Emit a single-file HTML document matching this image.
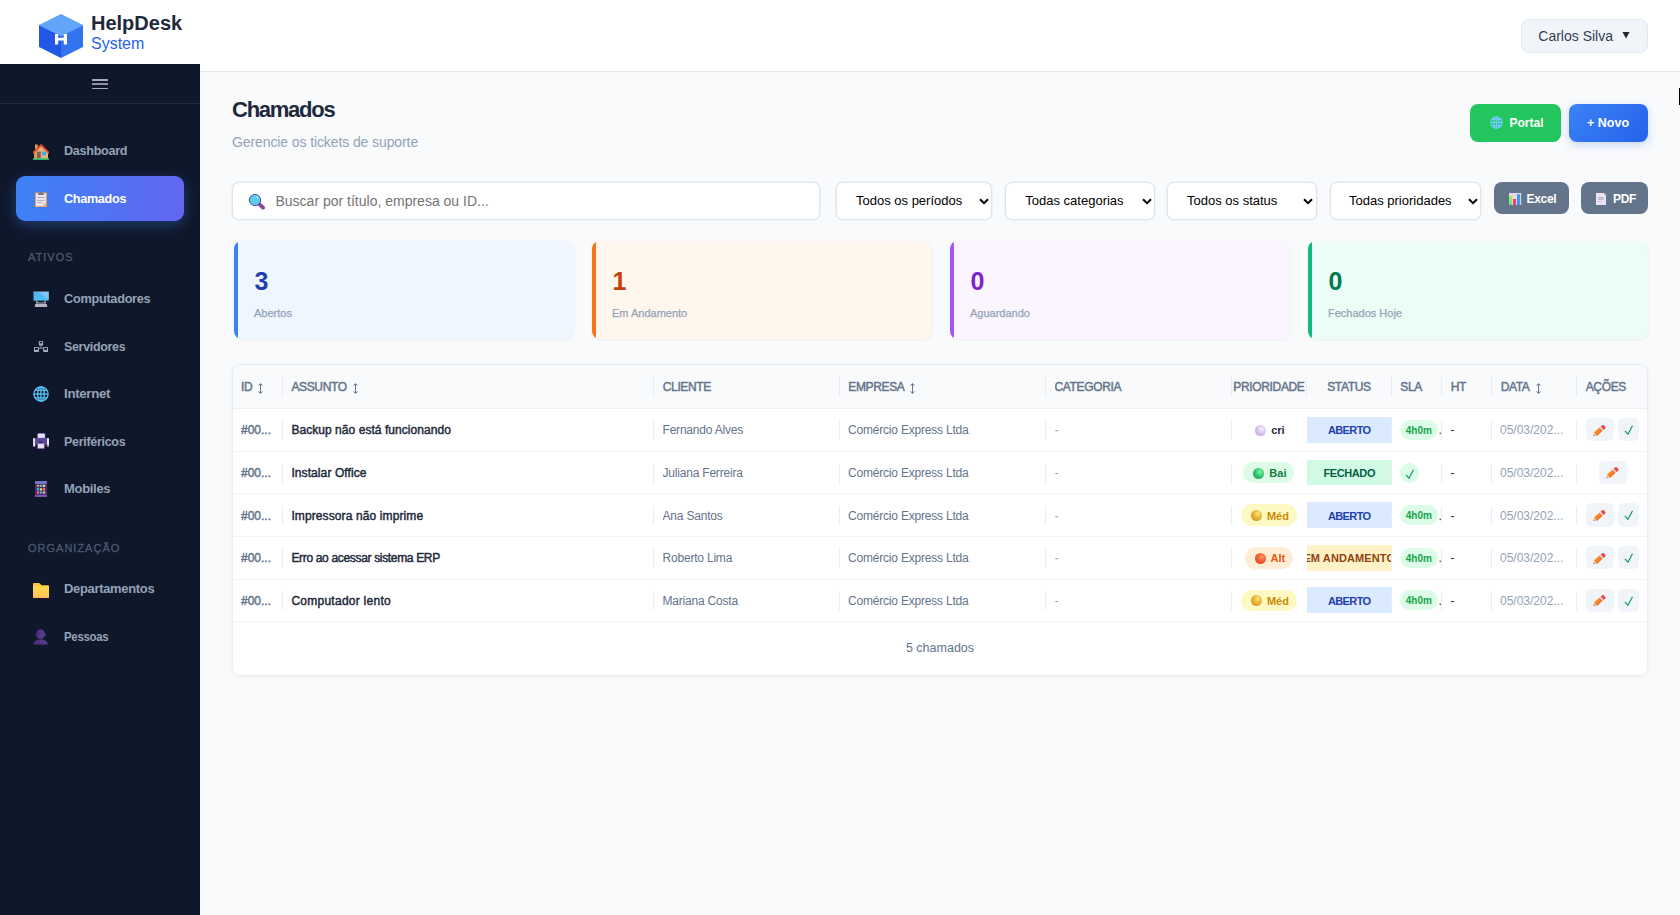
<!DOCTYPE html>
<html lang="pt-BR">
<head>
<meta charset="utf-8">
<title>HelpDesk System - Chamados</title>
<style>
*{box-sizing:border-box;margin:0;padding:0}
html,body{width:1680px;height:915px;overflow:hidden}
body{position:relative;background:#f8fafc;font-family:"Liberation Sans",sans-serif;color:#1e293b}
.abs{position:absolute}
svg{display:block}
#hdr{position:absolute;left:0;top:0;width:1680px;height:72px;background:#fff;border-bottom:1px solid #e2e8f0}
.brand1{position:absolute;left:91px;top:11px;font-weight:bold;font-size:20px;line-height:24px;color:#1e293b;white-space:nowrap}
.brand2{position:absolute;left:91px;top:34px;font-size:16px;line-height:20px;color:#2563eb;white-space:nowrap}
#user{position:absolute;left:1521px;top:19px;width:127px;height:34px;background:#f1f5f9;border:1px solid #e2e8f0;border-radius:8px}
#user span{position:absolute;left:16.3px;top:8px;font-size:14px;line-height:16px;color:#334155;white-space:nowrap}
#side{position:absolute;left:0;top:64px;width:200px;height:851px;background:#0f172a}
.hamb{position:absolute;left:92px;width:16px;background:#a4a9b6}
.sep{position:absolute;left:0;top:39px;width:200px;height:1px;background:#1e293b}
.nav{position:absolute;left:64px;font-weight:bold;font-size:13px;line-height:16px;letter-spacing:-0.3px;color:#94a3b8;white-space:nowrap;transform-origin:0 50%}
.sect{position:absolute;left:28px;font-weight:normal;font-size:11px;line-height:13px;letter-spacing:1px;color:#4b5a70;white-space:nowrap;-webkit-text-stroke:0.3px #4b5a70}
.ico{position:absolute}
#active{position:absolute;left:16px;top:112px;width:168px;height:45px;border-radius:9px;background:linear-gradient(100deg,#3b82f6 0%,#6366f1 100%);box-shadow:0 4px 14px rgba(59,130,246,0.35)}
.title{position:absolute;left:232px;top:96.5px;font-weight:bold;font-size:22px;line-height:26px;letter-spacing:-1.25px;color:#1e293b;white-space:nowrap}
.subtitle{position:absolute;left:232px;top:134px;font-size:14px;line-height:16px;color:#94a3b8;white-space:nowrap;letter-spacing:-0.1px}
.btn{position:absolute;border-radius:8px;color:#fff;font-weight:bold;white-space:nowrap}
.btn span{position:absolute;line-height:14px}
.inp{position:absolute;top:182px;height:38px;background:#fff;border:1px solid #dfe5ed;border-radius:7px;box-shadow:0 0 0 0.6px rgba(226,232,240,0.8)}
.inp .t{position:absolute;top:10px;font-size:13px;line-height:16px;color:#000;white-space:nowrap}
.inp svg.chev{position:absolute;top:15px}
.card{position:absolute;top:241px;width:340px;height:98px;border-radius:8px;overflow:hidden;box-shadow:0 1px 3px rgba(15,23,42,0.06)}
.card .bar{position:absolute;left:0;top:0;width:4px;height:100%}
.card .n{position:absolute;left:21px;top:26px;font-weight:bold;font-size:25px;line-height:28px}
.card .l{position:absolute;left:20.5px;top:65px;font-size:11px;line-height:14px;color:#94a3b8;white-space:nowrap;-webkit-text-stroke:0.25px #94a3b8}
#tbl{position:absolute;left:232px;top:364px;width:1416px;height:312px;background:#fff;border-radius:8px;box-shadow:0 1px 4px rgba(15,23,42,0.06);overflow:hidden}
#tbl::after{content:'';position:absolute;left:0;top:0;right:0;bottom:0;border:1px solid #e9edf2;border-radius:8px;pointer-events:none}
.th{position:absolute;left:0;top:0;width:1416px;height:44.5px;background:#f8fafc;border-bottom:1px solid #ecf0f5}
.tr{position:absolute;left:0;width:1416px;border-bottom:1px solid #f1f5f9}
.c{position:absolute;top:0;height:100%;display:flex;align-items:center;white-space:nowrap;overflow:hidden}
.vs{position:absolute;width:1px;height:19px;background:#e9edf2}
.hd{font-weight:normal;font-size:12px;color:#64748b;letter-spacing:-0.35px;padding-top:2px;-webkit-text-stroke:0.45px #64748b}
.sort{display:block;margin-left:6px;position:relative;top:2px}
.id{font-weight:normal;font-size:12px;color:#64748b;padding-top:1px;-webkit-text-stroke:0.45px #64748b}
.subj{font-weight:normal;font-size:12px;color:#1e293b;padding-top:1px;-webkit-text-stroke:0.45px #1e293b}
.cl{font-size:12px;color:#64748b;letter-spacing:-0.2px;padding-top:1px}
.mut{font-size:12px;color:#94a3b8;padding-top:1px}
.dk{font-size:12px;color:#1e293b;padding-top:1px}
.pb{display:flex;align-items:center;height:21.5px;border-radius:11px;padding:1px 8px 0 10px;font-weight:bold;font-size:11px}
.sph{display:inline-block;border-radius:50%;margin-right:5px;flex:none;position:relative;top:0px}
.st{width:100%;height:25.6px;display:flex;align-items:center;justify-content:center;font-weight:bold;font-size:11px;overflow:hidden;padding-top:1px}
.sla{display:flex;align-items:center;justify-content:center;height:20px;border-radius:10px;background:#dcfce7;color:#16a34a;font-weight:bold;font-size:10px;padding-top:1px}
.ab{display:flex;align-items:center;justify-content:center;height:23.4px;border-radius:5px;background:#f1f5f9;flex:none}
</style>
</head>
<body>

<div id="hdr">
  <svg class="abs" style="left:39px;top:14px" width="44" height="44" viewBox="0 0 44 44">
    <polygon points="22,0 44,11 22,22 0,11" fill="#60a5fa"/>
    <polygon points="0,11 22,22 22,44 0,33" fill="#2357e8"/>
    <polygon points="44,11 22,22 22,44 44,33" fill="#3273f0"/>
    <path d="M16 20h3.2v3.8h5.6V20H28v10.5h-3.2v-4h-5.6v4H16z" fill="#fff"/>
  </svg>
  <div class="brand1">HelpDesk</div>
  <div class="brand2">System</div>
  <div id="user"><span>Carlos Silva</span>
    <svg class="abs" style="left:100px;top:11px" width="8" height="8" viewBox="0 0 8 8"><polygon points="0.5,1 7.5,1 4,7.5" fill="#1e293b"/></svg>
  </div>
</div>

<div id="side">
<div class="hamb" style="top:15px;height:1.5px"></div><div class="hamb" style="top:19.2px;height:1.8px;background:#8d919d"></div><div class="hamb" style="top:23.8px;height:1.5px"></div>
<div class="sep"></div>
<div id="active"></div>
<div class="ico" style="left:33px;top:79.5px"><svg width="16" height="16" viewBox="0 0 16 16"><rect x="2" y="0.5" width="2.8" height="5" fill="#d9995a"/><polygon points="8,2.2 15,8.6 15,14.4 1.1,14.4 1.1,8.6" fill="#e9b27c"/><rect x="1.1" y="8" width="1.6" height="6.4" fill="#d48f55"/><path d="M0.6 8.6 L8 1.2 L15.4 8.6" fill="none" stroke="#e8502e" stroke-width="1.9" stroke-linejoin="round" stroke-linecap="round"/><rect x="3.8" y="7.6" width="4" height="6.8" fill="#8b5a4c"/><rect x="9" y="7.6" width="4" height="3.8" fill="#3aa9ef"/><rect x="0" y="14.3" width="16" height="1.4" rx="0.5" fill="#4ade80"/></svg></div>
<div class="nav" style="top:79px;color:#94a3b8;transform:scaleX(0.97)">Dashboard</div>
<div class="ico" style="left:35px;top:127.80000000000001px"><svg width="12" height="15" viewBox="0 0 12 15"><rect x="0" y="0.4" width="11.9" height="14.6" rx="0.6" fill="#f0a24e"/><path d="M1.1 1.4 H10.9 V11.6 L8.4 14 H1.1 Z" fill="#ebe7f4"/><path d="M8.4 14 L8.4 11.6 L10.9 11.6 Z" fill="#cfc8dc"/><rect x="3.2" y="1" width="5.6" height="2" rx="0.6" fill="#77727f"/><rect x="5.3" y="0" width="1.4" height="1.4" fill="#77727f"/><rect x="2.2" y="5" width="7.5" height="0.9" fill="#a9a4b2"/><rect x="2.2" y="7.9" width="7.5" height="0.9" fill="#a9a4b2"/><rect x="2.2" y="10" width="4.8" height="0.9" fill="#a9a4b2"/></svg></div>
<div class="nav" style="top:127px;color:#ffffff;transform:scaleX(0.97)">Chamados</div>
<div class="ico" style="left:33px;top:227px"><svg width="16" height="16" viewBox="0 0 16 16"><defs><linearGradient id="scr" x1="0" y1="0" x2="1" y2="1"><stop offset="0" stop-color="#45b4f0"/><stop offset="1" stop-color="#52c4f4"/></linearGradient></defs><rect x="0.5" y="0.4" width="15.2" height="9.2" fill="url(#scr)"/><polygon points="5,1 15.7,1 15.7,8.4" fill="#8cc8f2" opacity="0.8"/><rect x="0.5" y="0.1" width="15.2" height="0.8" fill="#6a5a70"/><rect x="3.2" y="9.6" width="1.3" height="2.8" fill="#b5b0bd"/><rect x="11.5" y="9.6" width="1.3" height="2.8" fill="#b5b0bd"/><rect x="3.2" y="11.4" width="9.6" height="1.2" fill="#a8a3b0"/><path d="M2.2 13.1 H13.8 L14.3 15.9 H1.7 Z" fill="#b9b3c1"/></svg></div>
<div class="nav" style="top:226.5px;color:#94a3b8;transform:scaleX(0.98)">Computadores</div>
<div class="ico" style="left:33px;top:275px"><svg width="16" height="16" viewBox="0 0 16 16"><g fill="#a3aec3"><rect x="5.8" y="1.9" width="4.3" height="4.6" rx="0.5"/><rect x="1" y="7.9" width="4.9" height="5" rx="0.5"/><rect x="10.2" y="7.9" width="4.8" height="5" rx="0.5"/><rect x="7.5" y="6.5" width="1" height="2"/><rect x="5.9" y="8.7" width="4.3" height="0.9"/></g><g fill="#0b1224"><rect x="6.8" y="2.8" width="2.3" height="1.6"/><rect x="2" y="8.8" width="2.9" height="2"/><rect x="11.2" y="8.8" width="2.8" height="2"/></g></svg></div>
<div class="nav" style="top:275px;color:#94a3b8;transform:scaleX(0.955)">Servidores</div>
<div class="ico" style="left:33px;top:322px"><svg width="16" height="16" viewBox="0 0 16 16"><g fill="none" stroke="#5ec4f8" stroke-width="1.3"><circle cx="8" cy="8" r="7.1"/><ellipse cx="8" cy="8" rx="3.3" ry="7.1"/><line x1="8" y1="0.9" x2="8" y2="15.1"/><line x1="0.9" y1="8" x2="15.1" y2="8"/><path d="M2 4.2 H14"/><path d="M2 11.8 H14"/></g></svg></div>
<div class="nav" style="top:321.5px;color:#94a3b8;transform:scaleX(1.02)">Internet</div>
<div class="ico" style="left:33px;top:369px"><svg width="16" height="16" viewBox="0 0 16 16"><rect x="4.2" y="0.1" width="8.2" height="5.3" rx="1.5" fill="#7d62b8"/><rect x="4.9" y="0.8" width="6.8" height="4.6" fill="#e6e0f0"/><rect x="0.1" y="5.2" width="2.2" height="8.3" fill="#ede8f5"/><rect x="13.8" y="5.2" width="2.2" height="8.3" fill="#ede8f5"/><rect x="14.2" y="11.7" width="1.3" height="1.3" fill="#ef3b5c"/><rect x="2.3" y="4.9" width="11.5" height="6.7" fill="#5b4a9c"/><rect x="6.1" y="8.3" width="3.9" height="1.5" fill="#3a2e52"/><rect x="4.2" y="10.7" width="7.5" height="5.2" fill="#7d5aa8"/><rect x="4.9" y="10.7" width="6.2" height="4.4" fill="#e2dcee"/></svg></div>
<div class="nav" style="top:370px;color:#94a3b8;transform:scaleX(0.96)">Periféricos</div>
<div class="ico" style="left:35px;top:417px"><svg width="13" height="16" viewBox="0 0 13 16"><rect x="0" y="0" width="12.1" height="16" rx="1" fill="#4a2c78"/><rect x="0" y="0" width="12.1" height="2.9" rx="0.8" fill="#7274c6"/><rect x="0" y="13.8" width="12.1" height="2.2" rx="0.8" fill="#8352a8"/><g><rect x="1.9" y="3.8" width="2.2" height="2.2" rx="0.4" fill="#fb8c3c"/><rect x="4.9" y="3.8" width="2.2" height="2.2" rx="0.4" fill="#38c6f4"/><rect x="7.9" y="3.8" width="2.2" height="2.2" rx="0.4" fill="#f8e13c"/><rect x="1.9" y="7.2" width="2.2" height="2.2" rx="0.4" fill="#38c6f4"/><rect x="4.9" y="7.2" width="2.2" height="2.2" rx="0.4" fill="#f8e13c"/><rect x="7.9" y="7.2" width="2.2" height="2.2" rx="0.4" fill="#fb8c3c"/><rect x="1.9" y="10.4" width="2.2" height="2.2" rx="0.4" fill="#fb8c3c"/><rect x="4.9" y="10.4" width="2.2" height="2.2" rx="0.4" fill="#38c6f4"/><rect x="7.9" y="10.4" width="2.2" height="2.2" rx="0.4" fill="#f8e13c"/></g></svg></div>
<div class="nav" style="top:417px;color:#94a3b8;transform:scaleX(1.0)">Mobiles</div>
<div class="ico" style="left:33px;top:518.5px"><svg width="16" height="15" viewBox="0 0 16 15"><defs><linearGradient id="fld" x1="0" y1="0" x2="0" y2="1"><stop offset="0" stop-color="#ffdb4d"/><stop offset="1" stop-color="#ffbf5a"/></linearGradient></defs><path d="M0 1 Q0 0 1 0 H6.3 L8.6 2.2 H15 Q16 2.2 16 3.2 V5 H0 Z" fill="#fcc33a"/><rect x="0" y="3" width="16" height="12" rx="0.8" fill="url(#fld)"/></svg></div>
<div class="nav" style="top:517px;color:#94a3b8;transform:scaleX(0.995)">Departamentos</div>
<div class="ico" style="left:33px;top:565.2px"><svg width="16" height="16" viewBox="0 0 16 16"><defs><linearGradient id="prs" x1="0" y1="0" x2="1" y2="0"><stop offset="0" stop-color="#4a2c7a"/><stop offset="1" stop-color="#5f3c96"/></linearGradient></defs><ellipse cx="7.5" cy="5.3" rx="4.2" ry="5" fill="url(#prs)"/><ellipse cx="3.3" cy="5.8" rx="0.9" ry="1.2" fill="#4a2c7a"/><ellipse cx="11.8" cy="5.8" rx="0.9" ry="1.2" fill="#5f3c96"/><path d="M0 15.6 Q1 10.4 7.5 10.4 Q14 10.4 15 15.6 Z" fill="url(#prs)"/></svg></div>
<div class="nav" style="top:565px;color:#94a3b8;transform:scaleX(0.875)">Pessoas</div>
<div class="sect" style="top:186.5px">ATIVOS</div>
<div class="sect" style="top:477.5px">ORGANIZAÇÃO</div>
</div>
<div class="title">Chamados</div><div class="subtitle">Gerencie os tickets de suporte</div>
<div class="btn" style="left:1470px;top:104px;width:91px;height:38px;background:#22c55e"><div class="abs" style="left:20px;top:12px"><svg width="13" height="13" viewBox="0 0 16 16"><g fill="none" stroke="#6fcaf9" stroke-width="1.5"><circle cx="8" cy="8" r="7"/><ellipse cx="8" cy="8" rx="3.2" ry="7"/><line x1="8" y1="1" x2="8" y2="15"/><line x1="1" y1="8" x2="15" y2="8"/><path d="M2 4.3 H14"/><path d="M2 11.7 H14"/></g></svg></div><span style="left:39.5px;top:12px;font-size:12px">Portal</span></div>
<div class="btn" style="left:1569px;top:104px;width:79px;height:38px;background:linear-gradient(135deg,#3b82f6,#2563eb);box-shadow:0 3px 8px rgba(37,99,235,0.22)"><span style="left:18px;top:12px;font-size:12.5px">+ Novo</span></div>
<div class="inp" style="left:232px;width:588px"><div class="abs" style="left:16px;top:11px"><svg width="16" height="16" viewBox="0 0 16 16"><line x1="10.6" y1="10.4" x2="14" y2="13.6" stroke="#8a4c98" stroke-width="4" stroke-linecap="round"/><circle cx="6" cy="6" r="5.6" fill="#5ccdec" stroke="#4e3f8c" stroke-width="0.9"/><circle cx="8.4" cy="3.6" r="1" fill="#d9f1fb" opacity="0.8"/></svg></div><div class="t" style="left:42.5px;font-size:14px;color:#757575">Buscar por título, empresa ou ID...</div></div>
<div class="inp" style="left:836px;width:156px"><div class="t" style="left:19px">Todos os períodos</div><svg class="chev" width="10" height="7" viewBox="0 0 10 7" style="left:142px"><path d="M1 1.2 L5 5.2 L9 1.2" fill="none" stroke="#000" stroke-width="2"/></svg></div>
<div class="inp" style="left:1005px;width:150px"><div class="t" style="left:19.299999999999955px">Todas categorias</div><svg class="chev" width="10" height="7" viewBox="0 0 10 7" style="left:135.5999999999999px"><path d="M1 1.2 L5 5.2 L9 1.2" fill="none" stroke="#000" stroke-width="2"/></svg></div>
<div class="inp" style="left:1167px;width:150px"><div class="t" style="left:19px">Todos os status</div><svg class="chev" width="10" height="7" viewBox="0 0 10 7" style="left:135.4000000000001px"><path d="M1 1.2 L5 5.2 L9 1.2" fill="none" stroke="#000" stroke-width="2"/></svg></div>
<div class="inp" style="left:1330px;width:151px"><div class="t" style="left:18px">Todas prioridades</div><svg class="chev" width="10" height="7" viewBox="0 0 10 7" style="left:137.4000000000001px"><path d="M1 1.2 L5 5.2 L9 1.2" fill="none" stroke="#000" stroke-width="2"/></svg></div>
<div class="btn" style="left:1494px;top:182px;width:75px;height:32px;background:#64748b"><div class="abs" style="left:15px;top:11px"><svg width="13" height="12" viewBox="0 0 13 12"><rect x="0" y="0" width="12.2" height="12" fill="#e2deeb"/><defs><linearGradient id="cg" x1="0" y1="0" x2="0" y2="1"><stop offset="0" stop-color="#b4ec50"/><stop offset="1" stop-color="#5ee47e"/></linearGradient><linearGradient id="cb" x1="0" y1="0" x2="1" y2="0"><stop offset="0" stop-color="#2f86df"/><stop offset="1" stop-color="#4aa8f4"/></linearGradient></defs><rect x="0.1" y="2.6" width="3.2" height="9.4" fill="url(#cg)"/><rect x="4.1" y="6" width="3" height="6" fill="#ee3576"/><rect x="8.1" y="1.2" width="3.1" height="10.8" fill="url(#cb)"/></svg></div><span style="left:32.5px;top:10px;font-size:12px;letter-spacing:-0.3px">Excel</span></div>
<div class="btn" style="left:1581px;top:182px;width:67px;height:32px;background:#64748b"><div class="abs" style="left:15px;top:11px"><svg width="10" height="12" viewBox="0 0 10 12"><path d="M0 0 H8 L10 2.3 V12 H0 Z" fill="#e9e3f3"/><path d="M8 0 V2.3 H10 Z" fill="#c9c2d6"/><rect x="2.2" y="4" width="5.6" height="2.8" fill="#c0bbcb"/><rect x="2.2" y="8.1" width="3.6" height="0.8" fill="#c7c1d2"/></svg></div><span style="left:32px;top:10px;font-size:12px;letter-spacing:-0.3px">PDF</span></div>
<div class="card" style="left:233.5px;background:#eff6ff"><div class="bar" style="background:#3b82f6"></div><div class="n" style="color:#1e40af">3</div><div class="l">Abertos</div></div>
<div class="card" style="left:591.5px;background:#fff7ed"><div class="bar" style="background:#f97316"></div><div class="n" style="color:#c2410c">1</div><div class="l">Em Andamento</div></div>
<div class="card" style="left:949.5px;background:#faf5ff"><div class="bar" style="background:#a855f7"></div><div class="n" style="color:#7e22ce">0</div><div class="l">Aguardando</div></div>
<div class="card" style="left:1307.5px;background:#ecfdf5"><div class="bar" style="background:#10b981"></div><div class="n" style="color:#047857">0</div><div class="l">Fechados Hoje</div></div>
<div id="tbl">
<div class="th">
<div class="c hd" style="left:9px;width:41.4px">ID<svg class="sort" width="5" height="11" viewBox="0 0 5 11"><path d="M2.5 0.8 V10.2 M0.6 2.6 L2.5 0.6 L4.4 2.6 M0.6 8.4 L2.5 10.4 L4.4 8.4" fill="none" stroke="#64748b" stroke-width="1"/></svg></div>
<div class="c hd" style="left:59.4px;width:362.35px">ASSUNTO<svg class="sort" width="5" height="11" viewBox="0 0 5 11"><path d="M2.5 0.8 V10.2 M0.6 2.6 L2.5 0.6 L4.4 2.6 M0.6 8.4 L2.5 10.4 L4.4 8.4" fill="none" stroke="#64748b" stroke-width="1"/></svg></div>
<div class="c hd" style="left:430.75px;width:176.5px">CLIENTE</div>
<div class="c hd" style="left:616.25px;width:197.25px">EMPRESA<svg class="sort" width="5" height="11" viewBox="0 0 5 11"><path d="M2.5 0.8 V10.2 M0.6 2.6 L2.5 0.6 L4.4 2.6 M0.6 8.4 L2.5 10.4 L4.4 8.4" fill="none" stroke="#64748b" stroke-width="1"/></svg></div>
<div class="c hd" style="left:822.5px;width:176.89999999999998px">CATEGORIA</div>
<div class="c hd" style="left:989.4px;width:95.10000000000002px;justify-content:center;overflow:visible">PRIORIDADE</div>
<div class="c hd" style="left:1064.5px;width:104.75px;justify-content:center;overflow:visible">STATUS</div>
<div class="c hd" style="left:1168.25px;width:41.450000000000045px">SLA</div>
<div class="c hd" style="left:1218.7px;width:41.0px">HT</div>
<div class="c hd" style="left:1268.7px;width:76.0px">DATA<svg class="sort" width="5" height="11" viewBox="0 0 5 11"><path d="M2.5 0.8 V10.2 M0.6 2.6 L2.5 0.6 L4.4 2.6 M0.6 8.4 L2.5 10.4 L4.4 8.4" fill="none" stroke="#64748b" stroke-width="1"/></svg></div>
<div class="c hd" style="left:1353.7px;width:62.299999999999955px">AÇÕES</div>
<div class="vs" style="left:50px;top:13px"></div>
<div class="vs" style="left:421px;top:13px"></div>
<div class="vs" style="left:607px;top:13px"></div>
<div class="vs" style="left:813px;top:13px"></div>
<div class="vs" style="left:999px;top:13px"></div>
<div class="vs" style="left:1074px;top:13px"></div>
<div class="vs" style="left:1159px;top:13px"></div>
<div class="vs" style="left:1209px;top:13px"></div>
<div class="vs" style="left:1259px;top:13px"></div>
<div class="vs" style="left:1344px;top:13px"></div>
</div>
<div class="tr" style="top:44.5px;height:43.5px">
<div class="c id" style="left:9px;width:40px">#00...</div>
<div class="c subj" style="left:59.4px;width:360px;letter-spacing:0.05px">Backup não está funcionando</div>
<div class="c cl" style="left:430.5px;width:175px">Fernando Alves</div>
<div class="c cl" style="left:616px;width:195px">Comércio Express Ltda</div>
<div class="c mut" style="left:822.5px;width:170px">-</div>
<div class="c" style="left:999.4px;width:75px;justify-content:center;overflow:visible"><div class="pb" style="background:transparent;color:#1e293b"><span class="sph" style="width:11px;height:11px;background:radial-gradient(circle at 62% 35%, #f6f0fb 0%, #d9c6ee 45%, #b399d6 100%)"></span>cri</div></div>
<div class="c" style="left:1075px;width:84.5px"><div class="st" style="background:#dbeafe;color:#1e40af;letter-spacing:-0.6px">ABERTO</div></div>
<div class="c" style="left:1168px;width:41px"><div class="sla" style="width:37.6px;flex:none">4h0m</div><span class="dk" style="margin-left:1px">.</span></div>
<div class="c dk" style="left:1218.4px;width:40px">-</div>
<div class="c mut" style="left:1268px;width:76px">05/03/202...</div>
<div class="c" style="left:1345px;width:71px;justify-content:center"><div class="ab" style="width:28.5px"><svg width="16" height="16" viewBox="0 0 16 16" style="margin-top:2px;margin-left:-2px"><g transform="rotate(-41 8 8)"><polygon points="0.6,8 3.4,5.8 3.4,10.2" fill="#f2c7a0"/><polygon points="0.6,8 1.7,7.1 1.7,8.9" fill="#7a3f7a"/><rect x="3.4" y="5.8" width="7.4" height="4.4" fill="#f98a2c"/><rect x="3.4" y="8.2" width="7.4" height="2" fill="#f0792a"/><rect x="10.8" y="5.8" width="1.4" height="4.4" fill="#dcd5f3"/><path d="M12.2 5.8 H14.4 Q15.4 5.8 15.4 6.8 V9.2 Q15.4 10.2 14.4 10.2 H12.2 Z" fill="#f4473b"/></g></svg></div><div class="ab" style="width:21px;margin-left:4.4px"><svg width="10" height="10" viewBox="0 0 10 10" style="margin-top:1px"><path d="M0.9 5.9 L3.9 9.2 L8.5 0.8" fill="none" stroke="#169a78" stroke-width="1.25"/></svg></div></div>
<div class="vs" style="left:50px;top:12.25px"></div>
<div class="vs" style="left:421px;top:12.25px"></div>
<div class="vs" style="left:607px;top:12.25px"></div>
<div class="vs" style="left:813px;top:12.25px"></div>
<div class="vs" style="left:999px;top:12.25px"></div>
<div class="vs" style="left:1159px;top:12.25px"></div>
<div class="vs" style="left:1209px;top:12.25px"></div>
<div class="vs" style="left:1259px;top:12.25px"></div>
<div class="vs" style="left:1344px;top:12.25px"></div>
</div>
<div class="tr" style="top:88px;height:42px">
<div class="c id" style="left:9px;width:40px">#00...</div>
<div class="c subj" style="left:59.4px;width:360px;letter-spacing:0.09px">Instalar Office</div>
<div class="c cl" style="left:430.5px;width:175px">Juliana Ferreira</div>
<div class="c cl" style="left:616px;width:195px">Comércio Express Ltda</div>
<div class="c mut" style="left:822.5px;width:170px">-</div>
<div class="c" style="left:999.4px;width:75px;justify-content:center;overflow:visible"><div class="pb" style="background:#dcfce7;color:#15803d"><span class="sph" style="width:11px;height:11px;background:radial-gradient(circle at 62% 35%, #7dfcaa 0%, #34c46e 45%, #2a8a5a 100%)"></span>Bai</div></div>
<div class="c" style="left:1075px;width:84.5px"><div class="st" style="background:#d1fae5;color:#065f46;letter-spacing:-0.4px">FECHADO</div></div>
<div class="c" style="left:1168px;width:40px"><div class="sla" style="width:19px"><svg width="10" height="10" viewBox="0 0 10 10" style="margin-top:1px"><path d="M0.9 5.9 L3.9 9.2 L8.5 0.8" fill="none" stroke="#169a78" stroke-width="1.25"/></svg></div></div>
<div class="c dk" style="left:1218.4px;width:40px">-</div>
<div class="c mut" style="left:1268px;width:76px">05/03/202...</div>
<div class="c" style="left:1345px;width:71px;justify-content:center"><div class="ab" style="width:28px"><svg width="16" height="16" viewBox="0 0 16 16" style="margin-top:2px;margin-left:-2px"><g transform="rotate(-41 8 8)"><polygon points="0.6,8 3.4,5.8 3.4,10.2" fill="#f2c7a0"/><polygon points="0.6,8 1.7,7.1 1.7,8.9" fill="#7a3f7a"/><rect x="3.4" y="5.8" width="7.4" height="4.4" fill="#f98a2c"/><rect x="3.4" y="8.2" width="7.4" height="2" fill="#f0792a"/><rect x="10.8" y="5.8" width="1.4" height="4.4" fill="#dcd5f3"/><path d="M12.2 5.8 H14.4 Q15.4 5.8 15.4 6.8 V9.2 Q15.4 10.2 14.4 10.2 H12.2 Z" fill="#f4473b"/></g></svg></div></div>
<div class="vs" style="left:50px;top:11.5px"></div>
<div class="vs" style="left:421px;top:11.5px"></div>
<div class="vs" style="left:607px;top:11.5px"></div>
<div class="vs" style="left:813px;top:11.5px"></div>
<div class="vs" style="left:999px;top:11.5px"></div>
<div class="vs" style="left:1159px;top:11.5px"></div>
<div class="vs" style="left:1209px;top:11.5px"></div>
<div class="vs" style="left:1259px;top:11.5px"></div>
<div class="vs" style="left:1344px;top:11.5px"></div>
</div>
<div class="tr" style="top:130px;height:43px">
<div class="c id" style="left:9px;width:40px">#00...</div>
<div class="c subj" style="left:59.4px;width:360px;letter-spacing:0.11px">Impressora não imprime</div>
<div class="c cl" style="left:430.5px;width:175px">Ana Santos</div>
<div class="c cl" style="left:616px;width:195px">Comércio Express Ltda</div>
<div class="c mut" style="left:822.5px;width:170px">-</div>
<div class="c" style="left:999.4px;width:75px;justify-content:center;overflow:visible"><div class="pb" style="background:#fef9c3;color:#ca8a04"><span class="sph" style="width:11px;height:11px;background:radial-gradient(circle at 62% 35%, #ffe680 0%, #e8b230 45%, #c0862a 100%)"></span>Méd</div></div>
<div class="c" style="left:1075px;width:84.5px"><div class="st" style="background:#dbeafe;color:#1e40af;letter-spacing:-0.6px">ABERTO</div></div>
<div class="c" style="left:1168px;width:41px"><div class="sla" style="width:37.6px;flex:none">4h0m</div><span class="dk" style="margin-left:1px">.</span></div>
<div class="c dk" style="left:1218.4px;width:40px">-</div>
<div class="c mut" style="left:1268px;width:76px">05/03/202...</div>
<div class="c" style="left:1345px;width:71px;justify-content:center"><div class="ab" style="width:28.5px"><svg width="16" height="16" viewBox="0 0 16 16" style="margin-top:2px;margin-left:-2px"><g transform="rotate(-41 8 8)"><polygon points="0.6,8 3.4,5.8 3.4,10.2" fill="#f2c7a0"/><polygon points="0.6,8 1.7,7.1 1.7,8.9" fill="#7a3f7a"/><rect x="3.4" y="5.8" width="7.4" height="4.4" fill="#f98a2c"/><rect x="3.4" y="8.2" width="7.4" height="2" fill="#f0792a"/><rect x="10.8" y="5.8" width="1.4" height="4.4" fill="#dcd5f3"/><path d="M12.2 5.8 H14.4 Q15.4 5.8 15.4 6.8 V9.2 Q15.4 10.2 14.4 10.2 H12.2 Z" fill="#f4473b"/></g></svg></div><div class="ab" style="width:21px;margin-left:4.4px"><svg width="10" height="10" viewBox="0 0 10 10" style="margin-top:1px"><path d="M0.9 5.9 L3.9 9.2 L8.5 0.8" fill="none" stroke="#169a78" stroke-width="1.25"/></svg></div></div>
<div class="vs" style="left:50px;top:12.0px"></div>
<div class="vs" style="left:421px;top:12.0px"></div>
<div class="vs" style="left:607px;top:12.0px"></div>
<div class="vs" style="left:813px;top:12.0px"></div>
<div class="vs" style="left:999px;top:12.0px"></div>
<div class="vs" style="left:1159px;top:12.0px"></div>
<div class="vs" style="left:1209px;top:12.0px"></div>
<div class="vs" style="left:1259px;top:12.0px"></div>
<div class="vs" style="left:1344px;top:12.0px"></div>
</div>
<div class="tr" style="top:173px;height:42.5px">
<div class="c id" style="left:9px;width:40px">#00...</div>
<div class="c subj" style="left:59.4px;width:360px;letter-spacing:-0.33px">Erro ao acessar sistema ERP</div>
<div class="c cl" style="left:430.5px;width:175px">Roberto Lima</div>
<div class="c cl" style="left:616px;width:195px">Comércio Express Ltda</div>
<div class="c mut" style="left:822.5px;width:170px">-</div>
<div class="c" style="left:999.4px;width:75px;justify-content:center;overflow:visible"><div class="pb" style="background:#ffedd5;color:#ea580c"><span class="sph" style="width:11px;height:11px;background:radial-gradient(circle at 62% 35%, #ff9a66 0%, #f25c34 45%, #d8402a 100%)"></span>Alt</div></div>
<div class="c" style="left:1075px;width:84.5px"><div class="st" style="background:#fef3c7;color:#92400e;letter-spacing:0.1px">EM ANDAMENTO</div></div>
<div class="c" style="left:1168px;width:41px"><div class="sla" style="width:37.6px;flex:none">4h0m</div><span class="dk" style="margin-left:1px">.</span></div>
<div class="c dk" style="left:1218.4px;width:40px">-</div>
<div class="c mut" style="left:1268px;width:76px">05/03/202...</div>
<div class="c" style="left:1345px;width:71px;justify-content:center"><div class="ab" style="width:28.5px"><svg width="16" height="16" viewBox="0 0 16 16" style="margin-top:2px;margin-left:-2px"><g transform="rotate(-41 8 8)"><polygon points="0.6,8 3.4,5.8 3.4,10.2" fill="#f2c7a0"/><polygon points="0.6,8 1.7,7.1 1.7,8.9" fill="#7a3f7a"/><rect x="3.4" y="5.8" width="7.4" height="4.4" fill="#f98a2c"/><rect x="3.4" y="8.2" width="7.4" height="2" fill="#f0792a"/><rect x="10.8" y="5.8" width="1.4" height="4.4" fill="#dcd5f3"/><path d="M12.2 5.8 H14.4 Q15.4 5.8 15.4 6.8 V9.2 Q15.4 10.2 14.4 10.2 H12.2 Z" fill="#f4473b"/></g></svg></div><div class="ab" style="width:21px;margin-left:4.4px"><svg width="10" height="10" viewBox="0 0 10 10" style="margin-top:1px"><path d="M0.9 5.9 L3.9 9.2 L8.5 0.8" fill="none" stroke="#169a78" stroke-width="1.25"/></svg></div></div>
<div class="vs" style="left:50px;top:11.75px"></div>
<div class="vs" style="left:421px;top:11.75px"></div>
<div class="vs" style="left:607px;top:11.75px"></div>
<div class="vs" style="left:813px;top:11.75px"></div>
<div class="vs" style="left:999px;top:11.75px"></div>
<div class="vs" style="left:1159px;top:11.75px"></div>
<div class="vs" style="left:1209px;top:11.75px"></div>
<div class="vs" style="left:1259px;top:11.75px"></div>
<div class="vs" style="left:1344px;top:11.75px"></div>
</div>
<div class="tr" style="top:215.5px;height:42.5px">
<div class="c id" style="left:9px;width:40px">#00...</div>
<div class="c subj" style="left:59.4px;width:360px;letter-spacing:0.26px">Computador lento</div>
<div class="c cl" style="left:430.5px;width:175px">Mariana Costa</div>
<div class="c cl" style="left:616px;width:195px">Comércio Express Ltda</div>
<div class="c mut" style="left:822.5px;width:170px">-</div>
<div class="c" style="left:999.4px;width:75px;justify-content:center;overflow:visible"><div class="pb" style="background:#fef9c3;color:#ca8a04"><span class="sph" style="width:11px;height:11px;background:radial-gradient(circle at 62% 35%, #ffe680 0%, #e8b230 45%, #c0862a 100%)"></span>Méd</div></div>
<div class="c" style="left:1075px;width:84.5px"><div class="st" style="background:#dbeafe;color:#1e40af;letter-spacing:-0.6px">ABERTO</div></div>
<div class="c" style="left:1168px;width:41px"><div class="sla" style="width:37.6px;flex:none">4h0m</div><span class="dk" style="margin-left:1px">.</span></div>
<div class="c dk" style="left:1218.4px;width:40px">-</div>
<div class="c mut" style="left:1268px;width:76px">05/03/202...</div>
<div class="c" style="left:1345px;width:71px;justify-content:center"><div class="ab" style="width:28.5px"><svg width="16" height="16" viewBox="0 0 16 16" style="margin-top:2px;margin-left:-2px"><g transform="rotate(-41 8 8)"><polygon points="0.6,8 3.4,5.8 3.4,10.2" fill="#f2c7a0"/><polygon points="0.6,8 1.7,7.1 1.7,8.9" fill="#7a3f7a"/><rect x="3.4" y="5.8" width="7.4" height="4.4" fill="#f98a2c"/><rect x="3.4" y="8.2" width="7.4" height="2" fill="#f0792a"/><rect x="10.8" y="5.8" width="1.4" height="4.4" fill="#dcd5f3"/><path d="M12.2 5.8 H14.4 Q15.4 5.8 15.4 6.8 V9.2 Q15.4 10.2 14.4 10.2 H12.2 Z" fill="#f4473b"/></g></svg></div><div class="ab" style="width:21px;margin-left:4.4px"><svg width="10" height="10" viewBox="0 0 10 10" style="margin-top:1px"><path d="M0.9 5.9 L3.9 9.2 L8.5 0.8" fill="none" stroke="#169a78" stroke-width="1.25"/></svg></div></div>
<div class="vs" style="left:50px;top:11.75px"></div>
<div class="vs" style="left:421px;top:11.75px"></div>
<div class="vs" style="left:607px;top:11.75px"></div>
<div class="vs" style="left:813px;top:11.75px"></div>
<div class="vs" style="left:999px;top:11.75px"></div>
<div class="vs" style="left:1159px;top:11.75px"></div>
<div class="vs" style="left:1209px;top:11.75px"></div>
<div class="vs" style="left:1259px;top:11.75px"></div>
<div class="vs" style="left:1344px;top:11.75px"></div>
</div>
<div class="abs" style="left:0;top:257px;width:1416px;height:54px;display:flex;align-items:center;justify-content:center;font-size:12.5px;color:#64748b">5 chamados</div>
</div>
<div class="abs" style="left:1679px;top:88px;width:1px;height:17px;background:#000"></div>
</body>
</html>
